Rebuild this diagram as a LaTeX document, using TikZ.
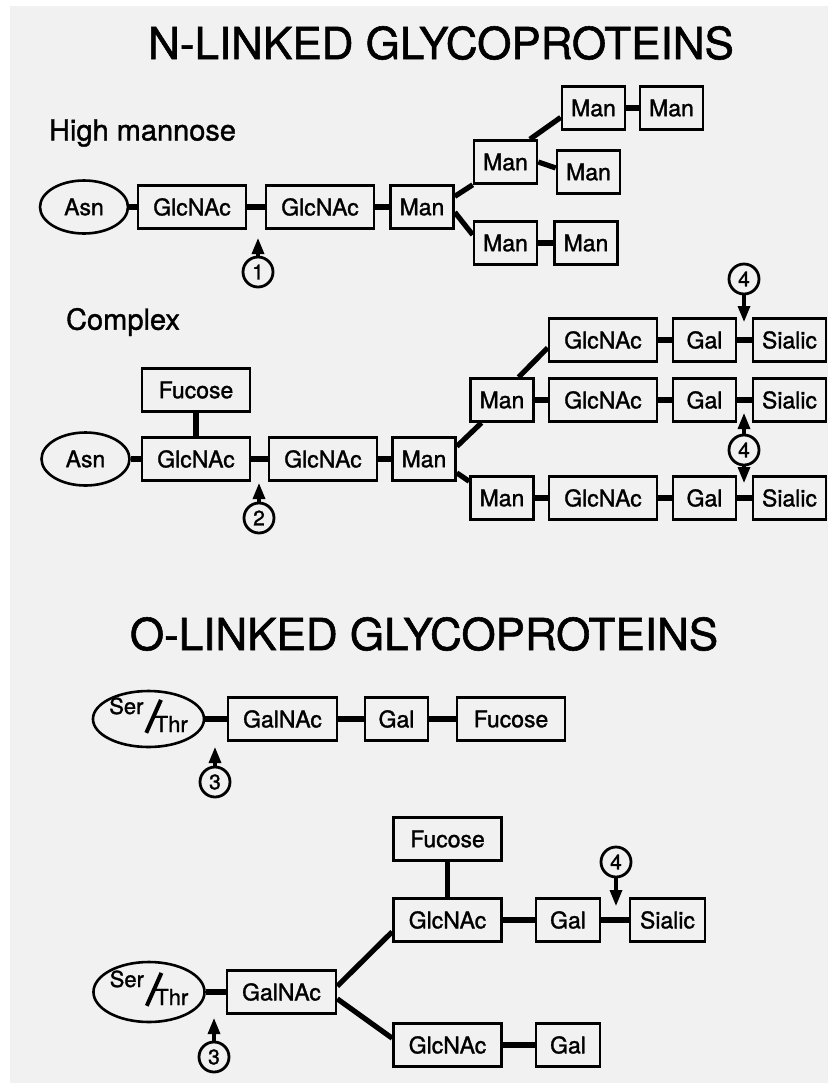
\documentclass[tikz,border=0pt]{standalone}
\usepackage{fontspec}
\setmainfont{TeX Gyre Heros}[BoldFont=TeX Gyre Heros,BoldFeatures={FakeBold=1.3}]
\usepackage{graphicx}
\usetikzlibrary{shapes.geometric,arrows.meta}
\definecolor{paper}{RGB}{241,241,241}
\newcommand{\serthr}{\smash{\raisebox{2.5pt}{Ser}}\hspace{0.5pt}\smash{\raisebox{-6.5pt}{\rotatebox{-24}{\rule{2pt}{18pt}}}}\hspace{-4pt}\smash{\raisebox{-6.5pt}{Thr}}}

\begin{document}
\begin{tikzpicture}[x=0.5pt,y=-0.5pt,
  sugar/.style={draw,line width=1.3pt,inner sep=0pt,minimum height=21.5pt,font=\fontsize{11.5}{12}\selectfont\bfseries},
  long/.style={sugar,minimum width=54pt},
  short/.style={sugar,minimum width=31.5pt},
  sia/.style={sugar,minimum width=36.5pt},
  amino/.style={draw,ellipse,line width=1.3pt,inner sep=0pt,minimum width=44pt,minimum height=26.5pt,font=\fontsize{11.5}{12}\selectfont\bfseries},
  hydroxy/.style={amino,minimum width=55pt,minimum height=28pt,font=\fontsize{11}{11}\selectfont\bfseries},
  link/.style={line width=2.6pt},
  site/.style={draw,circle,line width=1.4pt,inner sep=0pt,minimum size=15pt,font=\fontsize{10.5}{10}\selectfont\bfseries},
  cut/.style={line width=1.6pt,-{Triangle[length=8pt,width=6pt]}},
  title/.style={font=\fontsize{22}{24}\selectfont\bfseries},
  head/.style={anchor=west,font=\fontsize{14.5}{16}\selectfont\bfseries}]
  \useasboundingbox (0,0) rectangle (828,1083);
  \fill[white] (0,0) rectangle (828,1083);
  \fill[paper] (10,6) rectangle (828,1083);

  \node[title] (ntitle) at (441,43) {N-LINKED GLYCOPROTEINS};

  % high mannose
  \node[head] (hman) at (42,133) {High mannose};
  \node[amino] (asnA) at (84,207) {Asn};
  \node[long] (glcA1) at (192,207) {GlcNAc};
  \node[long] (glcA2) at (320,207) {GlcNAc};
  \node[short] (manA) at (422,207) {Man};
  \node[short] (manB) at (505.5,162) {Man};
  \node[short] (manC) at (593.5,108) {Man};
  \node[short] (manD) at (671.5,108) {Man};
  \node[short] (manE) at (588.5,172) {Man};
  \node[short] (manF) at (505.5,243) {Man};
  \node[short] (manG) at (586,243) {Man};
  \draw[link] (asnA) -- (glcA1) -- (glcA2) -- (manA);
  \draw[link] (manA.18) -- (manB.south west);
  \draw[link] (manA.-9) -- (manF.166);
  \draw[link] (manB.43) -- (manC.196);
  \draw[link] (manB.east) -- (manE.173);
  \draw[link] (manC) -- (manD);
  \draw[link] (manF) -- (manG);
  \node[site] (s1) at (258,272) {1};
  \coordinate (t1) at (258,238);
  \draw[cut] (s1) -- (t1);

  % complex
  \node[head] (cplx) at (59,322) {Complex};
  \node[long] (fucB) at (196,390) {Fucose};
  \node[amino] (asnB) at (85.5,459) {Asn};
  \node[long] (glcB1) at (196,459) {GlcNAc};
  \node[long] (glcB2) at (323,459) {GlcNAc};
  \node[short] (manK) at (424,459) {Man};
  \node[short] (manH) at (502,400) {Man};
  \node[short] (manJ) at (502,498) {Man};
  \foreach \r/\y in {I/340,H/400,J/498} {
    \node[long] (glc\r) at (603,\y) {GlcNAc};
    \node[short] (gal\r) at (704.5,\y) {Gal};
    \node[sia] (sia\r) at (789.5,\y) {Sialic};
    \draw[link] (glc\r) -- (gal\r) -- (sia\r);
  }
  \draw[link] (asnB) -- (glcB1) -- (glcB2) -- (manK);
  \draw[link] (fucB) -- (glcB1);
  \draw[link] (manK.21) -- (manH.228);
  \draw[link] (manK.-23) -- (manJ.153);
  \draw[link] (manH.54) -- (glcI.188);
  \draw[link] (manH) -- (glcH);
  \draw[link] (manJ) -- (glcJ);
  \node[site] (s2) at (259,518) {2};
  \coordinate (t2) at (259,483);
  \draw[cut] (s2) -- (t2);
  \node[site] (s4a) at (744,279) {4};
  \coordinate (t4a) at (744,322);
  \draw[cut] (s4a) -- (t4a);
  \node[site] (s4b) at (744,450) {4};
  \coordinate (t4b) at (744,413);
  \coordinate (t4c) at (744,483);
  \draw[cut] (s4b) -- (t4b);
  \draw[cut] (s4b) -- (t4c);

  \node[title] (otitle) at (424,634) {O-LINKED GLYCOPROTEINS};

  % o-linked, short chain
  \node[hydroxy] (serA) at (148.5,719) {\serthr};
  \node[long,minimum width=54.5pt] (galnA) at (282.5,719) {GalNAc};
  \node[short] (galA) at (396.5,719) {Gal};
  \node[long] (fucA) at (511,719) {Fucose};
  \draw[link] (serA) -- (galnA) -- (galA) -- (fucA);
  \node[site] (s3a) at (215,782) {3};
  \coordinate (t3a) at (215,747);
  \draw[cut] (s3a) -- (t3a);

  % o-linked, branched chain
  \node[long] (fucC) at (447.5,839) {Fucose};
  \node[long] (glcC) at (447.5,920) {GlcNAc};
  \node[short,minimum width=32pt] (galC) at (568,920) {Gal};
  \node[sia,minimum width=37.5pt] (siaC) at (667.5,920) {Sialic};
  \node[hydroxy,minimum width=54pt,minimum height=30pt] (serB) at (149,992) {\serthr};
  \node[long,minimum width=54.5pt] (galnB) at (281.5,992) {GalNAc};
  \node[long] (glcD) at (447.5,1045) {GlcNAc};
  \node[short,minimum width=32pt] (galD) at (568,1045) {Gal};
  \draw[link] (fucC) -- (glcC);
  \draw[link] (glcC) -- (galC) -- (siaC);
  \draw[link] (serB) -- (galnB);
  \draw[link] (galnB.6) -- (glcC.192);
  \draw[link] (galnB.-7) -- (glcD.173);
  \draw[link] (glcD) -- (galD);
  \node[site] (s4c) at (616,862) {4};
  \coordinate (t4d) at (616,906);
  \draw[cut] (s4c) -- (t4d);
  \node[site] (s3b) at (214,1057) {3};
  \coordinate (t3b) at (214,1018);
  \draw[cut] (s3b) -- (t3b);
\end{tikzpicture}
\end{document}
